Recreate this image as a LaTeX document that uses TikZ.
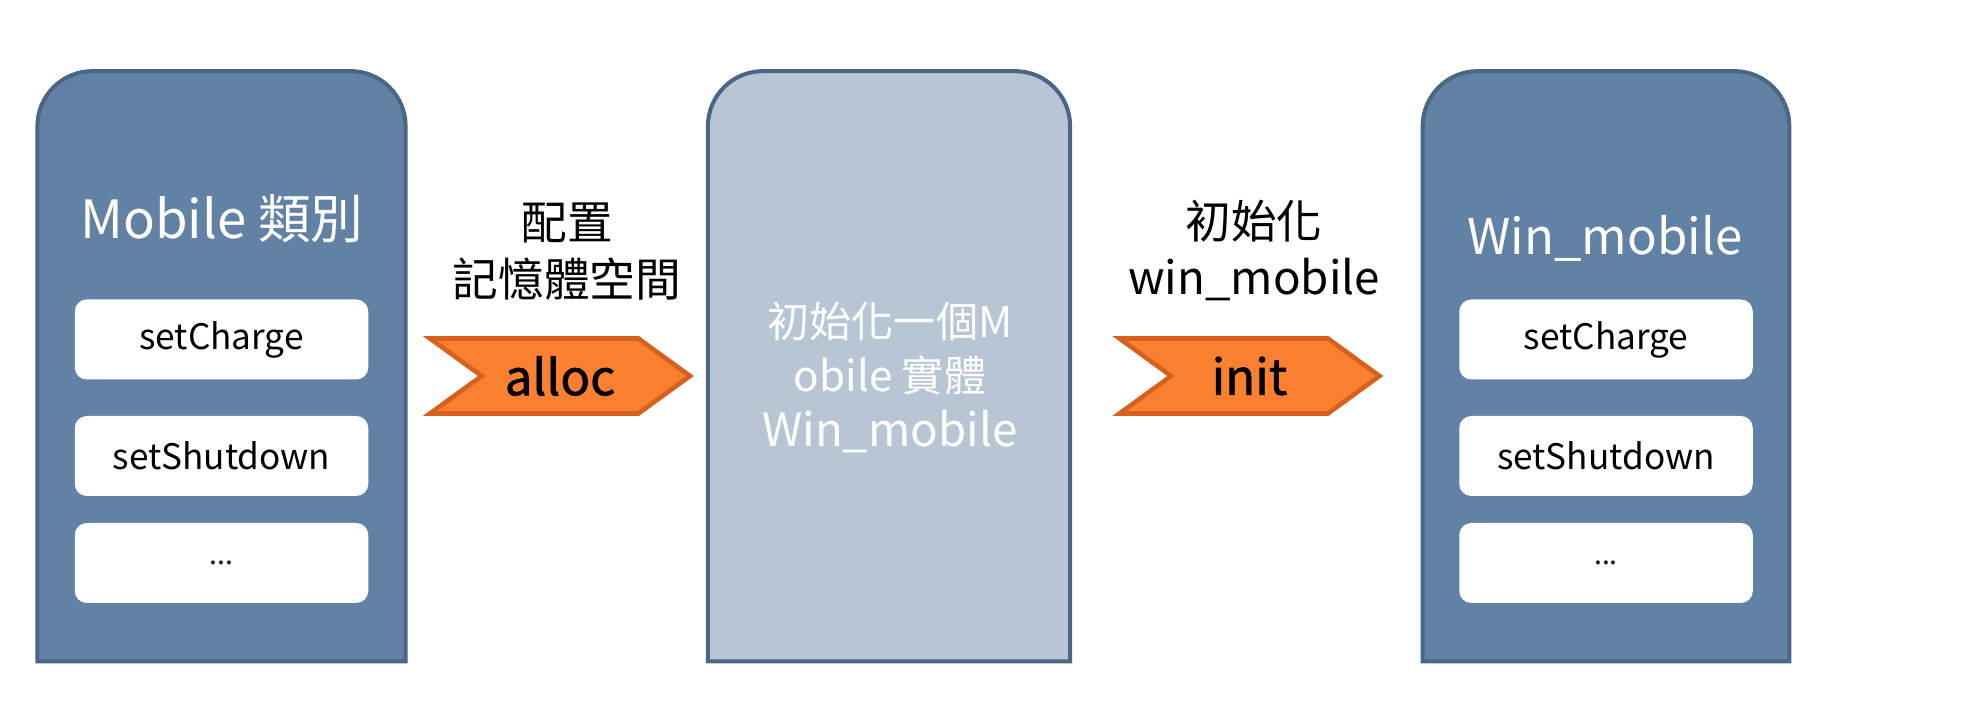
\documentclass[tikz,border=0pt]{standalone}
\usepackage{fontspec}
\setmainfont{Noto Sans CJK TC}
\newfontfamily\stepfont{Noto Sans CJK TC}[FakeBold=1.2]
\usepackage{xcolor}
\usetikzlibrary{shapes.symbols,positioning}

\definecolor{classblue}{RGB}{98,130,165}
\definecolor{edgeblue}{RGB}{74,102,133}
\definecolor{paleblue}{RGB}{184,197,213}
\definecolor{steporange}{RGB}{250,128,48}
\definecolor{stepedge}{RGB}{214,96,30}

\tikzset{
    classbox/.style={draw=edgeblue,line width=2.3pt,fill=classblue},
    slot/.style={rectangle,fill=white,rounded corners=0.24cm,minimum width=5.87cm,minimum height=1.6cm,font=\fontsize{20}{23}\selectfont},
    stepsign/.style={signal,signal to=east,signal from=west,signal pointer angle=72,draw=stepedge,line width=2.6pt,fill=steporange,minimum width=5.2cm,minimum height=1.5cm,inner sep=0pt,font=\stepfont\fontsize{28}{32}\selectfont},
    caption/.style={align=center,font=\fontsize{26}{32}\selectfont}
}

\begin{document}
\begin{tikzpicture}
    \useasboundingbox (0,0) rectangle (39.32,14.04);

    % Class box
    \node[rectangle,minimum width=7.35cm,minimum height=11.79cm] (mobile) at (4.43,6.715) {};
    \draw[classbox] (mobile.south west) [rounded corners=1.1cm] -- (mobile.north west) -- (mobile.north east) [sharp corners] -- (mobile.south east) -- cycle;
    \node[text=white,font=\fontsize{30}{34}\selectfont] (mobiletitle) at (4.44,9.66) {Mobile 類別};
    \node[slot] (charge) at (4.43,7.25) {setCharge};
    \node[slot] (shutdown) at (4.43,4.92) {setShutdown};
    \node[slot,font=\fontsize{16}{18}\selectfont] (more) at (4.43,2.78) {...};

    % alloc step
    \node[caption] (alloclabel) at (11.34,9.01) {配置\\記憶體空間};
    \node[stepsign] (alloc) at (11.2,6.52) {alloc};

    % Empty instance
    \node[rectangle,minimum width=7.23cm,minimum height=11.79cm] (instance) at (17.78,6.715) {};
    \draw[classbox,fill=paleblue] (instance.south west) [rounded corners=1.1cm] -- (instance.north west) -- (instance.north east) [sharp corners] -- (instance.south east) -- cycle;
    \node[align=center,text=white,font=\fontsize{24}{31}\selectfont] (instancetext) at (17.8,6.5) {初始化一個M\\obile 實體\\{\fontsize{26}{31}\selectfont Win\_mobile}};

    % init step
    \node[caption] (initlabel) at (25.08,9.03) {初始化\\win\_mobile};
    \node[stepsign] (init) at (24.99,6.52) {init};

    % Initialised object
    \node[rectangle,minimum width=7.32cm,minimum height=11.79cm] (winmobile) at (32.12,6.715) {};
    \draw[classbox] (winmobile.south west) [rounded corners=1.1cm] -- (winmobile.north west) -- (winmobile.north east) [sharp corners] -- (winmobile.south east) -- cycle;
    \node[text=white,font=\fontsize{28}{32}\selectfont] (wintitle) at (32.1,9.28) {Win\_mobile};
    \node[slot] (wincharge) at (32.12,7.25) {setCharge};
    \node[slot] (winshutdown) at (32.12,4.92) {setShutdown};
    \node[slot,font=\fontsize{16}{18}\selectfont] (winmore) at (32.12,2.78) {...};
\end{tikzpicture}
\end{document}
